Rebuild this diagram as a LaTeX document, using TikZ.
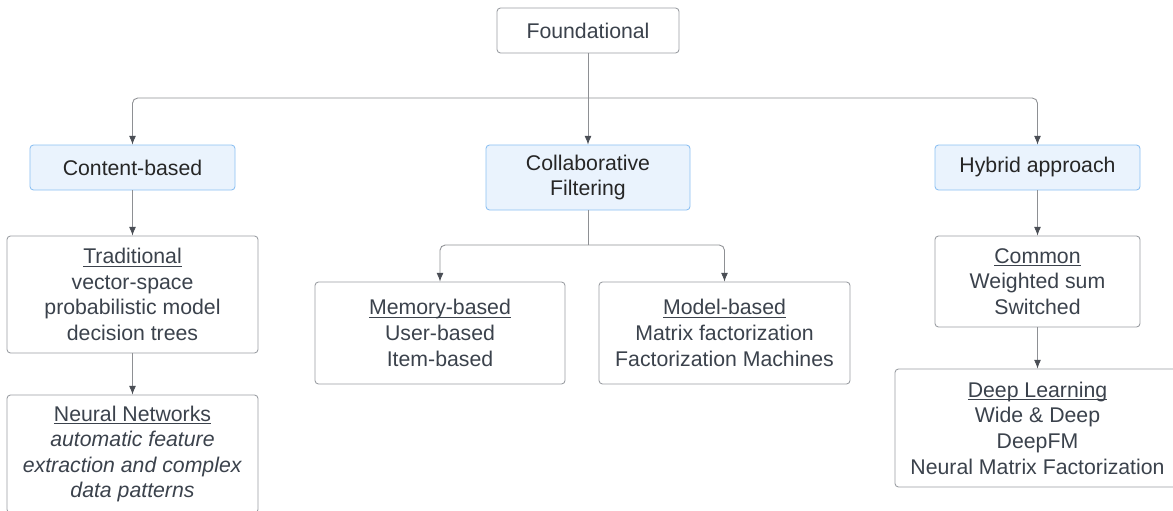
\documentclass[tikz,border=0pt]{standalone}
\usepackage{fontspec}
\setmainfont{Liberation Sans}
\usepackage{tikz}
\usepackage{xcolor}
\usetikzlibrary{arrows.meta}

\definecolor{boxline}{HTML}{9A9DA2}
\definecolor{boxtext}{HTML}{3B424C}
\definecolor{bluefill}{HTML}{EAF3FD}
\definecolor{blueline}{HTML}{8CC0F2}
\definecolor{linkgray}{HTML}{8E9094}
\definecolor{tipgray}{HTML}{4A4E55}

% underlined heading, rule kept at a fixed depth
\newcommand{\headline}[1]{\underline{\raisebox{0pt}[\height][0pt]{#1}}}

\tikzset{
    box/.style={draw=boxline, line width=0.5pt, rounded corners=2pt, fill=white,
        text=boxtext, align=center, font=\fontsize{12.1}{14.6}\selectfont,
        inner sep=0pt},
    bluebox/.style={box, draw=blueline, fill=bluefill, text=black!85},
    link/.style={draw=linkgray, line width=0.5pt,
        -{Latex[length=5pt,width=4pt,color=tipgray]}},
    bus/.style={link, rounded corners=3pt}
}

\begin{document}
\begin{tikzpicture}
    \useasboundingbox (0,0) rectangle (23.46,-10.22);
    \clip (0,0) rectangle (23.46,-10.22);

    % Top level
    \node[box, minimum width=3.64cm, minimum height=0.9cm] (found) at (11.76,-0.61) {Foundational};

    % Three families
    \node[bluebox, minimum width=4.1cm, minimum height=0.9cm] (content) at (2.65,-3.35) {Content-based};
    \node[bluebox, minimum width=4.08cm, minimum height=1.3cm] (collab) at (11.76,-3.55) {Collaborative\\Filtering};
    \node[bluebox, minimum width=4.1cm, minimum height=0.9cm] (hybrid) at (20.75,-3.35) {Hybrid approach};

    % Content-based branch
    \node[box, minimum width=5.02cm, minimum height=2.34cm] (trad) at (2.65,-5.89)
        {\headline{Traditional}\\vector-space\\probabilistic model\\decision trees};
    \node[box, minimum width=5.02cm, minimum height=2.36cm] (neural) at (2.65,-9.08)
        {\headline{Neural Networks}\\\textit{automatic feature}\\\textit{extraction and complex}\\\textit{data patterns}};

    % Collaborative branch
    \node[box, minimum width=5.0cm, minimum height=2.04cm] (memory) at (8.8,-6.66)
        {\headline{Memory-based}\\User-based\\Item-based};
    \node[box, minimum width=5.02cm, minimum height=2.04cm] (model) at (14.49,-6.66)
        {\headline{Model-based}\\Matrix factorization\\Factorization Machines};

    % Hybrid branch
    \node[box, minimum width=4.1cm, minimum height=1.82cm] (common) at (20.75,-5.63)
        {\headline{Common}\\Weighted sum\\Switched};
    \node[box, minimum width=5.7cm, minimum height=2.36cm] (deep) at (20.75,-8.56)
        {\headline{Deep Learning}\\Wide \& Deep\\DeepFM\\Neural Matrix Factorization};

    % Connectors
    \coordinate (topbus) at (11.76,-1.96);
    \coordinate (midbus) at (11.76,-4.9);
    \draw[link] (found) -- (collab);
    \draw[bus] (topbus) -| (content);
    \draw[bus] (topbus) -| (hybrid);
    \draw[draw=linkgray, line width=0.5pt] (collab) -- (midbus);
    \draw[bus] (midbus) -| (memory);
    \draw[bus] (midbus) -| (model);
    \draw[link] (content) -- (trad);
    \draw[link] (trad) -- (neural);
    \draw[link] (hybrid) -- (common);
    \draw[link] (common) -- (deep.north -| common);

\end{tikzpicture}
\end{document}
